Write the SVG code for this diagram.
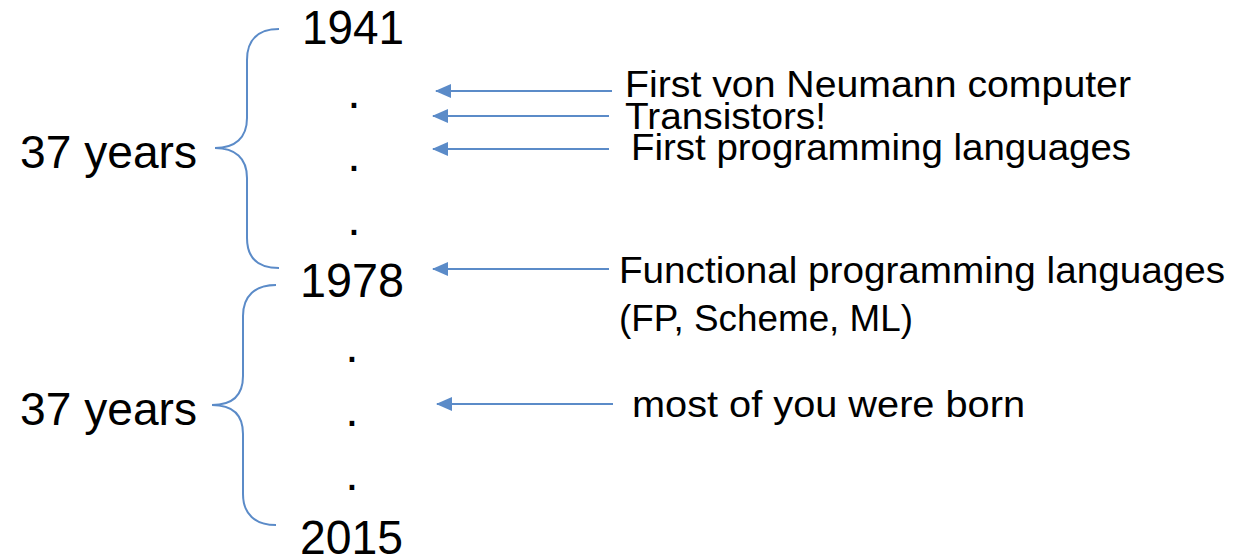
<svg xmlns="http://www.w3.org/2000/svg" width="1247" height="557" viewBox="0 0 1247 557">
<style>
text{font-family:"Liberation Sans",Arial,sans-serif;fill:#000}
.yr{font-size:48px}
.lbl{font-size:46px}
.t{font-size:36px}
.dot{font-size:48px;text-anchor:middle}
.br{fill:none;stroke:#5B8BC8;stroke-width:2}
.ar{fill:none;stroke:#5B8BC8;stroke-width:2;marker-end:url(#ah)}
</style>
<defs>
<marker id="ah" viewBox="0 0 16 14" refX="15" refY="7" markerWidth="16" markerHeight="14" markerUnits="userSpaceOnUse" orient="auto">
<path d="M0,0 L16,7 L0,14 z" fill="#5B8BC8"/>
</marker>
</defs>
<g id="years">
<text class="yr" x="302" y="44" textLength="102" lengthAdjust="spacingAndGlyphs">1941</text>
<text class="yr" x="300" y="297" textLength="104" lengthAdjust="spacingAndGlyphs">1978</text>
<text class="yr" x="300" y="554" textLength="103" lengthAdjust="spacingAndGlyphs">2015</text>
</g>
<g id="dots">
<text class="dot" x="354" y="108">.</text>
<text class="dot" x="354" y="171">.</text>
<text class="dot" x="354" y="235">.</text>
<text class="dot" x="352" y="362">.</text>
<text class="dot" x="352" y="426">.</text>
<text class="dot" x="352" y="490">.</text>
</g>
<g id="brace1">
<path class="br" d="M279,29 C258,29 247,40 247,60 L247,118 C247,138 235,148 215,148 C235,148 247,158 247,178 L247,238 C247,258 258,268 279,268"/>
<text class="lbl" x="20" y="168" textLength="177" lengthAdjust="spacingAndGlyphs">37 years</text>
</g>
<g id="brace2">
<path class="br" d="M276,285 C255,285 243,296 243,316 L243,376 C243,396 232,405 212,405 C232,405 243,414 243,434 L243,494 C243,514 255,525 276,525"/>
<text class="lbl" x="20" y="425" textLength="177" lengthAdjust="spacingAndGlyphs">37 years</text>
</g>
<g id="connectors">
<line class="ar" x1="612" y1="91" x2="436" y2="91"/>
<line class="ar" x1="609" y1="116" x2="433" y2="116"/>
<line class="ar" x1="609" y1="149" x2="433" y2="149"/>
<line class="ar" x1="609" y1="269" x2="433" y2="269"/>
<line class="ar" x1="613" y1="404" x2="437" y2="404"/>
</g>
<g id="events">
<text class="t" x="625" y="97" textLength="506" lengthAdjust="spacingAndGlyphs">First von Neumann computer</text>
<text class="t" x="625" y="129" textLength="201" lengthAdjust="spacingAndGlyphs">Transistors!</text>
<text class="t" x="631" y="160" textLength="500" lengthAdjust="spacingAndGlyphs">First programming languages</text>
<text class="t" x="619" y="283" textLength="606" lengthAdjust="spacingAndGlyphs">Functional programming languages</text>
<text class="t" x="619" y="331" textLength="294" lengthAdjust="spacingAndGlyphs">(FP, Scheme, ML)</text>
<text class="t" x="632" y="417" textLength="393" lengthAdjust="spacingAndGlyphs">most of you were born</text>
</g>
</svg>
